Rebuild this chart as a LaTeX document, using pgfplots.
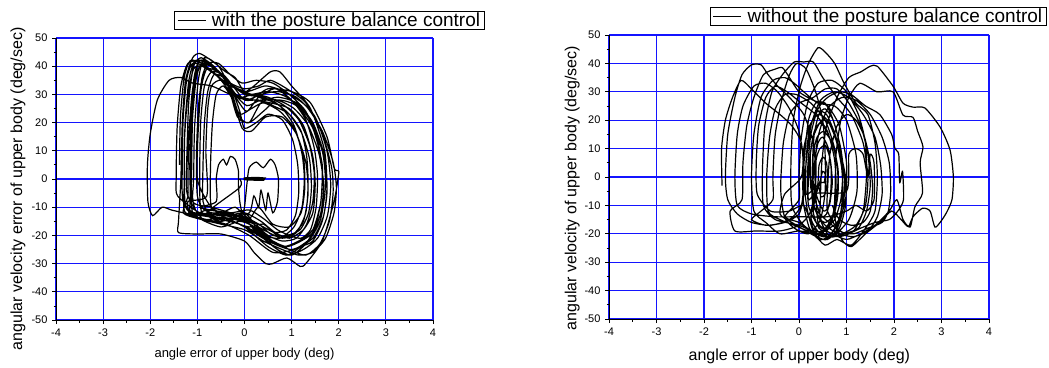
\documentclass[border=0pt]{standalone}
\usepackage{fontspec}
\setmainfont{Liberation Sans}
\usepackage{pgfplots}
\pgfplotsset{compat=1.18}

\definecolor{gridblue}{RGB}{20,20,255}

\pgfplotsset{
  phase/.style={
    scale only axis,
    anchor=south west,
    xmin=-4, xmax=4, ymin=-50, ymax=50,
    axis lines*=left,
    axis line style={black, line width=0.9pt},
    xtick={-4,-3,...,4},
    xticklabels={-4,-3,-2,-1,0,1,2,3,4},
    ytick={-50,-40,...,50},
    yticklabels={-50,-40,-30,-20,-10,0,10,20,30,40,50},
    minor x tick num=1,
    minor y tick num=1,
    tick align=outside,
    major tick length=4pt,
    minor tick length=2.5pt,
    tick style={black, line width=0.8pt},
    xmajorgrids, ymajorgrids,
    major grid style={gridblue, line width=1.1pt},
    ticklabel style={font=\fontsize{11}{12}\selectfont},
    xticklabel style={yshift=-1pt},
    yticklabel style={xshift=-1pt},
    legend cell align=left,
    legend image code/.code={\draw[black, line width=1pt] (0pt,0pt) -- (28pt,0pt); \path (32pt,0pt);},
    trace/.style={black, line width=1.2pt, smooth, tension=0.4},
  },
}

\begin{document}
\begin{tikzpicture}
\path[use as bounding box] (0,0) rectangle (1049pt,367pt);

% ---------------- with the posture balance control ----------------
\begin{axis}[phase,
  at={(56pt,47pt)}, width=377pt, height=282pt,
  xlabel={angle error of upper body (deg)},
  xlabel style={font=\fontsize{13}{14}\selectfont, at={(axis description cs:0.5,-0.121)}, anchor=center},
  ylabel={angular velocity error of upper body (deg/sec)},
  ylabel style={font=\fontsize{16}{17}\selectfont, at={(axis description cs:-0.101,0.465)}, anchor=center, rotate=0},
  legend style={at={(1.138,1.096)}, anchor=north east, draw=black, line width=0.8pt,
    font=\fontsize{19}{20}\selectfont, inner xsep=3pt, inner ysep=0pt,
    nodes={inner sep=1.5pt}},
]
\addplot[trace] coordinates {
(-1.38,5) (-1.36,22) (-1.28,36) (-1.15,42) (-0.90,41) (-0.60,37) (-0.30,33) (0.05,31) (0.45,33) (0.85,31) (1.30,26) (1.65,17) (1.88,6) (1.95,-3) (1.90,-12) (1.72,-21) (1.45,-26) (1.15,-27) (0.80,-25) (0.40,-22) (0.00,-18) (-0.50,-16) (-1.00,-14) (-1.30,-12) (-1.20,-6)
(-1.20,0) (-1.18,16) (-1.10,32) (-0.95,42) (-0.60,39) (-0.30,34) (0.00,30) (0.40,29) (0.75,26) (1.05,19) (1.22,9) (1.27,0) (1.22,-10) (1.05,-17) (0.75,-21) (0.40,-20) (-0.10,-16) (-0.60,-14) (-1.00,-12) (-1.10,-7)
(-1.08,0) (-1.06,18) (-0.98,35) (-0.85,43) (-0.55,40) (-0.30,32) (-0.10,22) (0.10,20) (0.35,27) (0.70,29) (1.10,27) (1.45,20) (1.70,8) (1.75,-3) (1.68,-13) (1.45,-21) (1.00,-25) (0.50,-22) (0.00,-17) (-0.50,-13) (-0.95,-12) (-1.42,-6)
(-1.45,0) (-1.43,18) (-1.35,33) (-1.20,41) (-0.90,42) (-0.55,38) (-0.25,33) (0.10,30) (0.50,31) (0.90,29) (1.35,22) (1.65,10) (1.72,-2) (1.62,-14) (1.40,-21) (1.05,-25) (0.60,-26) (0.10,-20) (-0.40,-16) (-0.90,-14) (-1.30,-12) (-1.55,-11) (-1.75,-10) (-1.95,-13) (-2.05,-8)
(-2.06,5) (-2.00,16) (-1.85,28) (-1.60,35) (-1.35,36) (-1.10,34) (-0.70,33) (-0.30,30) (0.10,28) (0.50,32) (1.00,31) (1.40,27) (1.75,15) (1.90,4) (1.97,3) (2.00,2) (1.90,-8) (1.65,-22) (1.30,-30) (1.18,-31) (0.90,-28) (0.60,-30) (0.45,-30) (0.20,-26) (0.00,-22) (-0.50,-19.5) (-1.00,-19.5) (-1.40,-19) (-1.40,-15)
(-1.35,0) (-1.32,20) (-1.25,35) (-1.10,43) (-0.95,44.5) (-0.70,42) (-0.40,38) (-0.20,36) (0.00,31) (0.20,33) (0.55,38) (0.75,38) (1.00,33) (1.40,25) (1.70,10) (1.75,-5) (1.65,-15) (1.45,-22) (1.20,-24) (0.90,-27) (0.50,-24) (0.00,-17) (-0.40,-14) (-0.90,-12)
(-0.95,0) (-0.93,20) (-0.85,33) (-0.70,38) (-0.45,37) (-0.20,32) (0.00,28) (0.30,28) (0.60,26) (0.95,23) (1.20,17) (1.32,8) (1.35,-2) (1.30,-12) (1.10,-19) (0.80,-21) (0.40,-18) (0.00,-14) (-0.30,-12) (-0.70,-10) (-1.10,-8)
(-1.12,5) (-1.10,22) (-1.02,36) (-0.90,41) (-0.60,39) (-0.35,33) (-0.15,22) (0.10,20) (0.40,24) (0.70,28) (1.10,26) (1.45,18) (1.65,5) (1.62,-8) (1.45,-18) (1.15,-22) (0.80,-24) (0.40,-20) (0.00,-12) (-0.40,-16) (-0.80,-13) (-1.05,-12) (-1.25,-10)
(-1.28,3) (-1.26,20) (-1.18,35) (-1.05,42) (-0.80,41) (-0.50,37) (-0.25,33) (0.00,31) (0.30,29) (0.65,27) (0.95,23) (1.22,16) (1.38,7) (1.42,-3) (1.36,-12) (1.18,-18) (0.90,-20) (0.60,-20) (0.30,-16) (-0.10,-13) (-0.50,-15) (-0.90,-12) (-1.15,-13) (-1.20,-8)
(-0.80,-6) (-0.82,10) (-0.78,25) (-0.70,33) (-0.50,35) (-0.30,30) (-0.10,23) (0.15,25) (0.40,27) (0.75,24) (1.05,18) (1.25,8) (1.28,-3) (1.20,-12) (0.95,-17) (0.60,-16) (0.30,-10) (0.10,-14) (-0.20,-10) (-0.50,-12) (-0.75,-9)
(-1.00,0) (-0.98,18) (-0.92,32) (-0.80,39) (-0.55,38) (-0.30,34) (0.00,32) (0.30,33) (0.55,35) (0.90,32) (1.30,27) (1.65,16) (1.85,4) (1.88,-5) (1.80,-15) (1.60,-23) (1.30,-27) (0.95,-25) (0.60,-22) (0.30,-20) (0.00,-14) (-0.40,-12) (-0.80,-11) (-1.10,-12)
(-1.15,2) (-1.13,20) (-1.06,34) (-0.95,40) (-0.70,40) (-0.40,35) (-0.15,28) (0.05,24) (0.30,29) (0.65,32) (1.00,28) (1.30,21) (1.48,11) (1.55,1) (1.52,-10) (1.40,-18) (1.20,-21) (0.95,-20) (0.70,-18) (0.40,-14) (0.10,-11) (-0.30,-12) (-0.70,-11) (-0.95,-10)
(-0.60,-8) (-0.60,0) (-0.55,5) (-0.45,7) (-0.38,5) (-0.30,8) (-0.20,7) (-0.13,3) (-0.13,-2) (-0.10,-8) (-0.05,-12) (0.00,-10) (0.05,-2) (0.10,4) (0.25,6) (0.40,4) (0.55,7) (0.65,5) (0.72,0) (0.70,-8) (0.60,-12) (0.50,-5) (0.45,-11) (0.35,-4) (0.30,-10) (0.20,-6) (0.10,-12) (-0.30,-13) (-0.70,-10)
(-0.72,5) (-0.68,20) (-0.60,30) (-0.45,33) (-0.25,28) (-0.05,18) (0.15,17) (0.45,22) (0.80,22) (1.10,16) (1.30,6) (1.35,-5) (1.25,-15) (1.00,-20) (0.70,-20) (0.40,-16) (0.10,-17) (-0.30,-15) (-0.60,-14) (-0.90,-14) (-1.22,-5)
(-1.22,10) (-1.18,28) (-1.08,40) (-0.92,43) (-0.65,40) (-0.40,35) (-0.18,30) (0.05,28) (0.35,30) (0.70,31) (1.10,29) (1.50,22) (1.75,10) (1.83,-2) (1.76,-13) (1.55,-21) (1.25,-25) (0.90,-27) (0.55,-23) (0.20,-17) (-0.10,-15) (-0.50,-17) (-0.95,-14) (-1.30,-8)
(-1.32,5) (-1.30,22) (-1.22,36) (-1.10,41) (-0.85,40) (-0.55,36) (-0.30,31) (-0.05,29) (0.20,28) (0.55,27) (0.95,25) (1.25,19) (1.45,8) (1.50,-2) (1.45,-12) (1.25,-18) (0.95,-21) (0.65,-19) (0.35,-15) (0.00,-12) (-0.40,-13) (-0.85,-11) (-1.00,-6)
(-1.02,8) (-0.98,25) (-0.90,36) (-0.78,41) (-0.55,41) (-0.30,37) (-0.05,34) (0.25,35) (0.60,34) (0.95,30) (1.30,24) (1.55,14) (1.65,3) (1.62,-8) (1.50,-17) (1.30,-23) (1.00,-27) (0.70,-25) (0.40,-21) (0.10,-16) (-0.30,-14) (-0.70,-13) (-0.88,-8)
(-0.88,5) (-0.85,20) (-0.78,31) (-0.65,37) (-0.45,36) (-0.25,31) (-0.10,24) (0.00,18) (0.25,20) (0.50,23) (0.80,21) (1.02,14) (1.13,5) (1.15,-5) (1.08,-13) (0.90,-18) (0.65,-19) (0.40,-17) (0.15,-15) (-0.20,-13) (-0.60,-12) (-1.25,-12)
(-1.28,-2) (-1.27,15) (-1.20,30) (-1.08,39) (-0.90,40) (-0.62,37) (-0.35,33) (-0.10,29) (0.20,30) (0.50,29) (0.85,26) (1.15,21) (1.38,12) (1.48,2) (1.45,-8) (1.32,-16) (1.10,-21) (0.80,-22) (0.50,-20) (0.20,-16) (-0.10,-14) (-0.50,-14) (-0.90,-13) (-1.15,-12) (-1.15,-6)
(-1.16,5) (-1.14,22) (-1.07,36) (-0.96,42) (-0.72,41) (-0.45,36) (-0.20,30) (0.05,26) (0.35,28) (0.70,28) (1.05,25) (1.35,19) (1.58,9) (1.68,-2) (1.62,-12) (1.45,-19) (1.20,-22) (0.90,-24) (0.60,-22) (0.30,-18) (0.00,-15) (-0.40,-13) (-0.80,-12) (-0.10,-3) (-0.10,0)
};
\addlegendentry{with the posture balance control}
% settling point at the end of the run
\addplot[black, line width=2.2pt, forget plot] coordinates {(-0.02,0.2) (0.25,0.4) (0.42,0.2) (0.40,-0.3) (0.10,-0.2) (-0.02,0)};
\end{axis}

% ---------------- without the posture balance control ----------------
\begin{axis}[phase,
  at={(609pt,48pt)}, width=380pt, height=284pt,
  xlabel={angle error of upper body (deg)},
  xlabel style={font=\fontsize{16}{17}\selectfont, at={(axis description cs:0.501,-0.130)}, anchor=center},
  ylabel={angular velocity of upper body (deg/sec)},
  ylabel style={font=\fontsize{16}{17}\selectfont, at={(axis description cs:-0.097,0.461)}, anchor=center, rotate=0},
  legend style={at={(1.153,1.099)}, anchor=north east, draw=black, line width=0.8pt,
    font=\fontsize{19}{20}\selectfont, inner xsep=3pt, inner ysep=0pt,
    nodes={inner sep=1.5pt}},
]
\addplot[trace] coordinates {
(-1.62,-3) (-1.63,10) (-1.55,20) (-1.40,28) (-1.22,34) (-1.00,31) (-0.70,26) (-0.40,22) (-0.15,18) (0.05,12) (0.10,0) (0.05,-10) (-0.20,-15) (-0.60,-17) (-1.00,-16) (-1.30,-13) (-1.50,-8)
(-1.55,0) (-1.50,15) (-1.35,28) (-1.20,36) (-1.00,39.5) (-0.80,39.5) (-0.65,36) (-0.45,32) (-0.20,28) (0.10,22) (0.30,12) (0.35,0) (0.25,-12) (0.00,-17) (-0.40,-19) (-0.90,-19) (-1.35,-19) (-1.45,-12)
(-1.20,-8) (-1.18,5) (-1.10,18) (-0.95,28) (-0.75,36) (-0.50,38) (-0.35,38.5) (-0.20,35) (0.00,30) (0.30,27) (0.60,25) (0.85,18) (1.00,5) (0.98,-8) (0.80,-16) (0.40,-20) (0.00,-19) (-0.40,-20) (-0.70,-16) (-0.95,-12)
(-1.00,0) (-0.95,15) (-0.80,28) (-0.55,34) (-0.30,35) (-0.10,33) (0.10,30) (0.40,26) (0.75,25) (1.00,20) (1.20,8) (1.22,-5) (1.05,-15) (0.70,-21) (0.40,-20) (0.00,-17) (-0.50,-15) (-0.75,-10)
(-0.77,2) (-0.72,18) (-0.57,30) (-0.35,36) (-0.10,40.5) (0.10,40.5) (0.30,40.5) (0.50,35) (0.80,28) (1.10,22) (1.35,12) (1.45,0) (1.40,-10) (1.20,-17) (0.90,-20) (0.50,-21) (0.10,-17) (-0.15,-10)
(-0.17,5) (-0.12,20) (0.03,32) (0.20,40) (0.40,45.5) (0.55,44) (0.75,40) (0.95,33) (1.20,26) (1.45,22) (1.60,12) (1.65,0) (1.60,-12) (1.40,-18) (1.10,-24) (0.80,-22) (0.55,-24) (0.30,-20) (0.00,-16) (-0.30,-14) (-0.38,-6)
(-0.38,0) (-0.33,12) (-0.20,22) (0.00,26) (0.30,28) (0.55,31) (0.80,31) (1.05,26) (1.30,18) (1.45,8) (1.50,-3) (1.42,-12) (1.25,-18) (0.95,-20) (0.65,-21) (0.45,-15)
(0.45,-8) (0.48,5) (0.58,18) (0.80,28) (1.05,35) (1.30,37) (1.50,39) (1.65,39) (1.98,32) (2.19,26) (2.40,24.6) (2.65,24.3) (2.97,17.6) (3.18,9.5) (3.25,0) (3.22,-8) (3.10,-12.7) (2.97,-16) (2.86,-17.6) (2.76,-12) (2.60,-11) (2.40,-14) (2.30,-17.5) (2.15,-15) (1.95,-12) (1.70,-16) (1.40,-20) (1.10,-24.5) (0.90,-22) (0.75,-14)
(0.76,-4) (0.78,8) (0.88,20) (1.05,28) (1.28,33) (1.64,30) (1.98,30) (2.19,21.8) (2.40,21) (2.50,16) (2.61,10.6) (2.55,5) (2.60,-5.6) (2.44,-10.5) (2.34,-17.6) (2.19,-15) (2.06,-8) (1.90,-12) (1.60,-17) (1.30,-20) (1.00,-22) (0.70,-20) (0.40,-17) (0.20,-10)
(0.18,2) (0.25,15) (0.40,24) (0.60,28) (0.85,30) (1.10,29) (1.40,25) (1.70,22) (1.95,15) (2.02,10) (2.10,8) (2.12,-2) (2.18,2) (2.20,-8) (2.08,-12) (1.90,-15) (1.60,-16) (1.30,-18) (1.00,-20) (0.70,-17) (0.30,-10)
(0.28,3) (0.32,15) (0.42,22) (0.55,24) (0.72,20) (0.85,12) (0.92,2) (0.88,-8) (0.75,-15) (0.55,-18) (0.40,-16) (0.35,-5)
(0.33,5) (0.40,12) (0.50,14) (0.62,10) (0.68,2) (0.66,-7) (0.58,-13) (0.47,-14) (0.38,-10) (0.25,-4)
(0.24,8) (0.32,16) (0.45,19) (0.62,15) (0.75,6) (0.78,-4) (0.72,-14) (0.58,-19) (0.42,-18) (0.30,-12) (0.40,-2)
(0.42,4) (0.50,7) (0.58,5) (0.60,-1) (0.55,-6) (0.46,-7) (0.40,-3) (0.15,-6)
(0.15,6) (0.22,17) (0.38,23) (0.58,22) (0.78,14) (0.90,4) (0.92,-6) (0.85,-15) (0.68,-20) (0.45,-20) (0.25,-14) (0.45,-1)
(0.50,2) (0.55,1) (0.53,-2) (0.47,-2) (0.20,-8)
(0.22,5) (0.30,14) (0.48,20) (0.68,18) (0.85,10) (0.98,0) (0.98,-10) (0.85,-18) (0.60,-22) (0.38,-21) (0.25,-15) (0.35,-3)
(0.36,6) (0.44,10) (0.56,11) (0.66,6) (0.70,-2) (0.64,-10) (0.52,-12) (0.40,-8) (0.30,-2)
(0.30,8) (0.38,14) (0.52,16) (0.70,12) (0.82,3) (0.82,-6) (0.74,-13) (0.56,-16) (0.40,-14) (0.30,-6) (1.00,-5)
(1.05,8) (1.20,10) (1.35,8) (1.45,0) (1.50,8) (1.58,5) (1.58,-8) (1.42,-12) (1.20,-10) (1.00,-12) (0.60,-14) (0.00,-14) (-0.50,-14) (-1.00,-13) (-1.30,-10)
(-1.35,0) (-1.30,15) (-1.18,25) (-0.95,32) (-0.70,33) (-0.45,30) (-0.20,24) (0.00,16) (0.10,5) (0.10,-6) (0.00,-13) (-0.30,-16) (-0.70,-17) (-1.00,-15) (-0.80,-12) (-0.55,-8)
(-0.55,0) (-0.50,15) (-0.35,28) (-0.20,36) (-0.05,40) (0.15,38) (0.35,30) (0.50,20) (0.55,8) (0.55,-5) (0.45,-15) (0.20,-20) (-0.10,-18) (-0.30,-14) (0.00,-8)
(0.00,0) (0.05,14) (0.18,26) (0.40,33) (0.70,34) (1.00,30) (1.25,22) (1.40,12) (1.42,0) (1.35,-12) (1.15,-19) (0.85,-21) (0.55,-20) (0.30,-18) (0.10,-10)
(-0.20,-12) (-0.60,-12) (-0.88,-6) (-0.90,5) (-0.85,18) (-0.70,28) (-0.50,32) (-0.25,30) (0.05,26) (0.35,22) (0.60,16) (0.75,6) (0.78,-5) (0.70,-14) (0.50,-19) (0.20,-19) (-0.10,-17) (-0.40,-15) (-0.65,-12)
(-0.68,0) (-0.62,14) (-0.50,24) (-0.30,29) (-0.05,29) (0.25,26) (0.55,20) (0.75,10) (0.82,0) (0.78,-10) (0.62,-17) (0.40,-21) (0.15,-19) (-0.15,-16) (-0.40,-13) (-0.30,-6)
(0.05,0) (0.10,10) (0.22,18) (0.40,22) (0.60,20) (0.78,13) (0.90,3) (0.92,-8) (0.82,-16) (0.62,-21) (0.42,-22) (0.22,-18) (0.10,-10) (0.08,-2)
(0.12,8) (0.20,20) (0.35,26) (0.55,26) (0.72,20) (0.88,10) (0.96,-2) (0.92,-12) (0.78,-19) (0.55,-22) (0.32,-20) (0.18,-12) (0.12,-4)
(0.15,5) (0.25,18) (0.45,27) (0.75,30) (1.05,28) (1.35,22) (1.60,14) (1.72,4) (1.75,-6) (1.65,-14) (1.45,-19) (1.15,-21) (0.85,-20) (0.55,-17) (0.30,-10)
(0.30,0) (0.40,14) (0.60,24) (0.90,28) (1.20,27) (1.50,22) (1.75,14) (1.90,5) (1.93,-5) (1.88,-12) (1.75,-16) (1.45,-18) (1.15,-20) (0.85,-19) (0.60,-12)
(0.60,-5) (0.65,8) (0.80,18) (1.00,22) (1.20,20) (1.38,14) (1.50,5) (1.55,-4) (1.50,-12) (1.35,-16) (1.10,-17) (0.85,-15) (0.70,-10)
};
\addlegendentry{without the posture balance control}
\end{axis}
\end{tikzpicture}
\end{document}
